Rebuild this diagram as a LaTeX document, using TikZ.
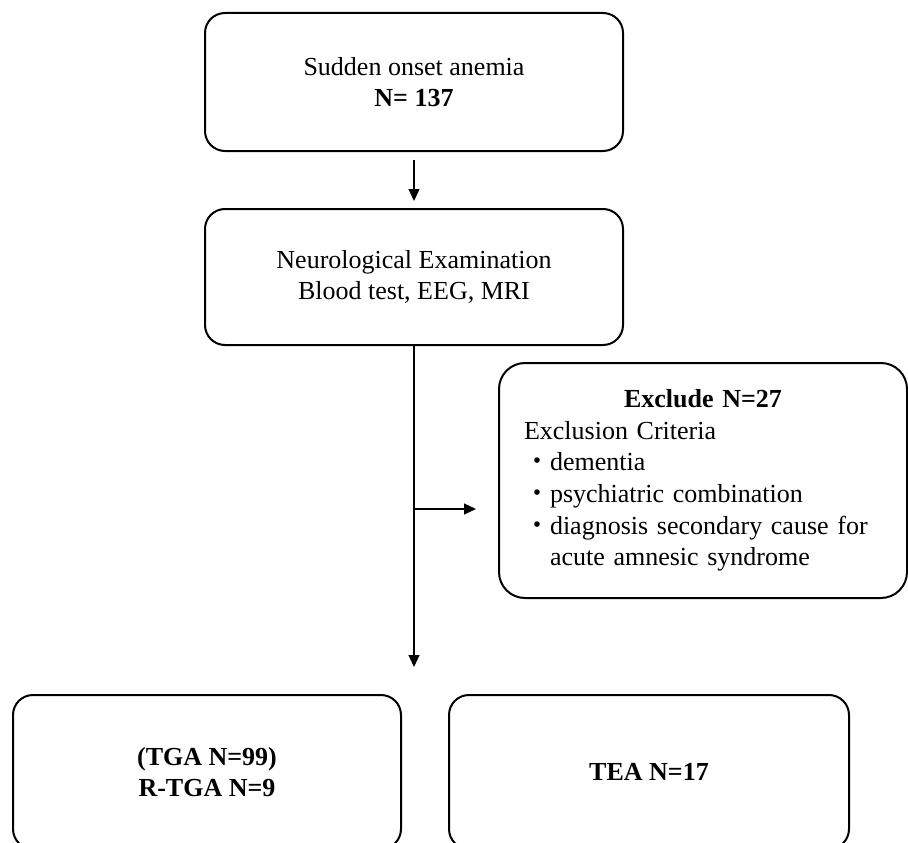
\documentclass[tikz,border=0pt]{standalone}
\usepackage{fontspec}
\setmainfont{Liberation Serif}
\newfontfamily\cjk{Noto Sans CJK JP}
\usetikzlibrary{arrows.meta}
\usetikzlibrary{positioning}

\tikzset{
  flowbox/.style={draw, line width=2pt, rounded corners=20pt, inner sep=0pt,
    align=center, font=\fontsize{26}{31.6}\selectfont},
  arr/.style={line width=1.3pt, -{Triangle[length=12pt,width=11pt]}}
}

\begin{document}
\begin{tikzpicture}[x=1pt, y=-1pt]
 \useasboundingbox (0,0) rectangle (908,843);
 \clip (0,0) rectangle (908,843);
 \node[flowbox, minimum width=418pt, minimum height=138pt] (onset) at (414,82)
   {Sudden onset anemia\\\textbf{N= 137}};
 \node[flowbox, minimum width=418pt, minimum height=136pt, below=56pt of onset] (exam)
   {Neurological Examination\\Blood test, EEG, MRI};
 \node[flowbox, rounded corners=26pt, minimum width=408pt, minimum height=235pt,
       text width=358pt, align=left] (exclude) at (703,480.5)
   {{\centering\textbf{Exclude N=27}\par}
    Exclusion Criteria\\
    {\cjk ・}dementia\\
    {\cjk ・}psychiatric combination\\
    {\cjk ・}diagnosis secondary cause for\\
    \hspace*{26pt}acute amnesic syndrome};
 \node[flowbox, minimum width=388pt, minimum height=154pt] (tga) at (207,772)
   {\textbf{(TGA N=99)}\\\textbf{R-TGA N=9}};
 \node[flowbox, minimum width=400pt, minimum height=154pt, right=46pt of tga] (tea)
   {\textbf{TEA N=17}};
 % connectors
 \path (exam.south) ++(0,163) coordinate (branch);
 \draw[arr, shorten <=8pt, shorten >=7pt] (onset) -- (exam);
 \draw[line width=1.3pt] (exam.south) -- (branch);
 \draw[arr, shorten >=27pt] (branch) -- (branch |- tga.north);
 \draw[arr, shorten >=22pt] (branch) -- (branch -| exclude.west);
\end{tikzpicture}
\end{document}
